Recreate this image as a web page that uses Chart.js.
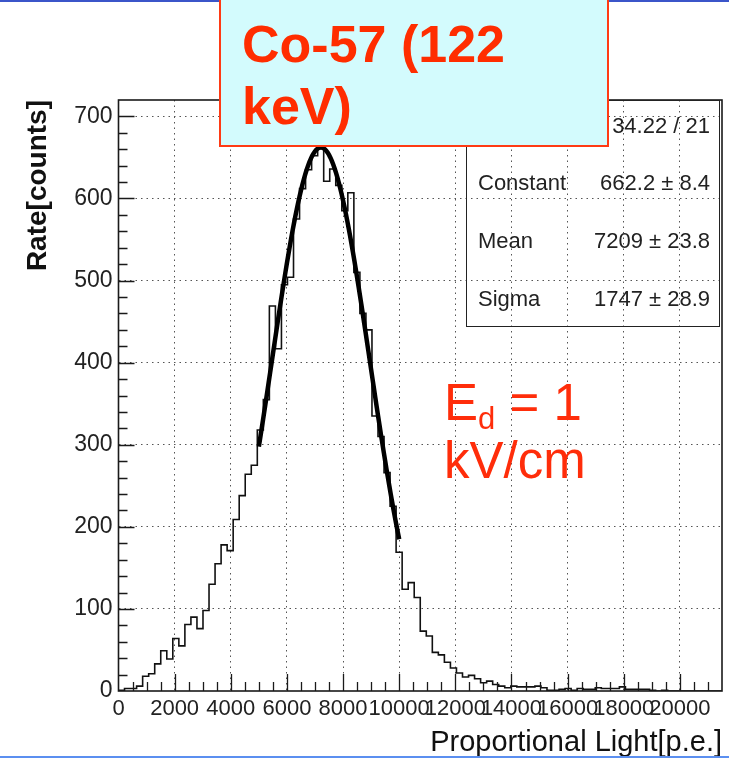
<!DOCTYPE html>
<html>
<head>
<meta charset="utf-8">
<title>Co-57 light spectrum</title>
<script src="https://cdn.jsdelivr.net/npm/chart.js@4"></script>
<style>
  html, body { margin: 0; padding: 0; background: #fff; }
  #wrap { position: relative; width: 729px; height: 760px; overflow: hidden;
          font-family: "Liberation Sans", Arial, Helvetica, sans-serif; }
  #plot { position: absolute; left: 0; top: 0; }
  .edge { position: absolute; left: 0; width: 729px; height: 2px; }
  #stats { position: absolute; left: 466px; top: 100px; width: 254px; height: 227px;
           border: 1.5px solid #222; box-sizing: border-box; }
  .row { position: absolute; left: 0; right: 0; height: 26px; line-height: 26px;
         font-size: 22px; color: #222; }
  .row .k { position: absolute; left: 11px; }
  .row .v { position: absolute; right: 9px; }
  #source { position: absolute; left: 219px; top: -3px; width: 390px; height: 150px;
            box-sizing: border-box; border: 2px solid #ff3a14; background: #d3fbfd;
            padding: 14px 0 0 21px; color: #ff2d00; font-weight: bold;
            font-size: 52px; line-height: 62px; }
  #field { position: absolute; left: 444px; top: 374px; color: #ff2d0a;
           font-size: 51px; line-height: 58px; }
  #field sub { font-size: 31px; line-height: 0; vertical-align: -0.28em; }
</style>
</head>
<body>
<div id="wrap">
  <canvas id="plot" width="729" height="760"></canvas>
  <div class="edge" style="top:0; background:#3b55c9;"></div>
  <div class="edge" style="top:756px; background:#5b8ff0;"></div>

  <div id="stats">
    <div class="row" style="top:12px"><span class="v">34.22 / 21</span></div>
    <div class="row" style="top:69px"><span class="k">Constant</span><span class="v">662.2 ± 8.4</span></div>
    <div class="row" style="top:127px"><span class="k">Mean</span><span class="v">7209 ± 23.8</span></div>
    <div class="row" style="top:185px"><span class="k">Sigma</span><span class="v">1747 ± 28.9</span></div>
  </div>

  <div id="source">Co-57 (122<br>keV)</div>
  <div id="field">E<sub>d</sub> = 1<br>kV/cm</div>
</div>

<script>
// histogram binning and axis ranges
const binWidth = 215;
const xRange = [0, 21500];
const yRange = [0, 720];
const xTickStep = 2000;
const xMinorStep = 500;
const yTickStep = 100;
const yMinorStep = 20;
const xTickLabels = [0, 2000, 4000, 6000, 8000, 10000, 12000, 14000, 16000, 18000, 20000];
const yTickLabels = [0, 100, 200, 300, 400, 500, 600, 700];

// counts per bin, starting at 0 p.e.
const counts = [
  1, 3, 3, 6, 18, 21, 33, 49, 39, 64,
  55, 81, 90, 76, 98, 130, 155, 178, 171, 209,
  238, 264, 275, 318, 355, 469, 417, 495, 504, 575,
  612, 635, 652, 664, 621, 636, 616, 585, 607, 510,
  460, 440, 335, 310, 266, 225, 169, 124, 132, 114,
  73, 67, 47, 44, 35, 28, 22, 17, 19, 15,
  10, 12, 8, 6, 4, 6, 5, 5, 5, 6,
  4, 1, 1, 2, 3, 1, 3, 2, 2, 4,
  3, 3, 3, 5, 2, 2, 2, 2, 1, 0,
  1, 0, 0, 0, 0, 0, 0, 0, 0, 0
];

// gaussian fit result
const fitConstant = 662.2;
const fitMean = 7209;
const fitSigma = 1747;
const fitRange = [5000, 10000];
const fitStep = 50;

const fontFamily = '"Liberation Sans", Arial, Helvetica, sans-serif';
Chart.defaults.font.family = fontFamily;

// step outline: one point per left bin edge, closed down to zero at both ends
const histPoints = [{ x: 0, y: 0 }]
  .concat(counts.map((c, i) => ({ x: i * binWidth, y: c })))
  .concat([{ x: counts.length * binWidth, y: 0 }]);

const fitPoints = [];
for (let e = fitRange[0]; e <= fitRange[1]; e += fitStep) {
  const d = (e - fitMean) / fitSigma;
  fitPoints.push({ x: e, y: fitConstant * Math.exp(-0.5 * d * d) });
}

// ROOT-like frame with inward major/minor ticks
const rootAxes = {
  id: 'rootAxes',
  afterDatasetsDraw(chart) {
    const { ctx, chartArea: a, scales: { x, y } } = chart;
    ctx.save();
    ctx.strokeStyle = '#1a1a1a';
    ctx.lineWidth = 1.3;
    ctx.beginPath();
    for (let v = xRange[0] + xMinorStep; v < xRange[1]; v += xMinorStep) {
      const px = Math.round(x.getPixelForValue(v)) + 0.5;
      const len = v % xTickStep === 0 ? 17 : 9;
      ctx.moveTo(px, a.bottom);
      ctx.lineTo(px, a.bottom - len);
    }
    for (let v = yRange[0] + yMinorStep; v < yRange[1]; v += yMinorStep) {
      const py = Math.round(y.getPixelForValue(v)) + 0.5;
      const len = v % yTickStep === 0 ? 16 : 9;
      ctx.moveTo(a.left, py);
      ctx.lineTo(a.left + len, py);
    }
    ctx.stroke();
    ctx.lineWidth = 1.6;
    ctx.strokeRect(a.left, a.top, a.right - a.left, a.bottom - a.top);
    ctx.restore();
  }
};

const gridColor = c => (c.tick && c.tick.value === 0) ? 'rgba(0,0,0,0)' : '#555';
const plainLabel = v => String(v);

new Chart(document.getElementById('plot'), {
  type: 'line',
  data: {
    datasets: [
      {
        label: 'gaus fit',
        data: fitPoints,
        borderColor: '#000',
        borderWidth: 4.5,
        pointRadius: 0,
        tension: 0
      },
      {
        label: 'counts',
        data: histPoints,
        stepped: true,
        borderColor: '#111',
        borderWidth: 1.6,
        pointRadius: 0,
        fill: false
      }
    ]
  },
  options: {
    responsive: false,
    animation: false,
    devicePixelRatio: 1,
    layout: { padding: { left: 0, right: 7, top: 100, bottom: 0 } },
    plugins: { legend: { display: false }, tooltip: { enabled: false } },
    scales: {
      x: {
        type: 'linear',
        min: xRange[0],
        max: xRange[1],
        afterFit: s => { s.height = 69; },
        afterBuildTicks: s => { s.ticks = xTickLabels.map(v => ({ value: v })); },
        ticks: {
          autoSkip: false, maxRotation: 0, minRotation: 0, padding: 5,
          color: '#222', font: { size: 22 }, callback: plainLabel
        },
        grid: { drawTicks: false, color: gridColor, lineWidth: 1 },
        border: { display: false, dash: [1.5, 4] },
        title: {
          display: true, text: 'Proportional Light[p.e.]', align: 'end',
          color: '#111', font: { size: 29 }, padding: { top: 0, bottom: 0 }
        }
      },
      y: {
        min: yRange[0],
        max: yRange[1],
        afterFit: s => { s.width = 118.5; },
        afterBuildTicks: s => { s.ticks = yTickLabels.map(v => ({ value: v })); },
        ticks: { padding: 6, color: '#222', font: { size: 23 }, callback: plainLabel },
        grid: { drawTicks: false, color: gridColor, lineWidth: 1 },
        border: { display: false, dash: [1.5, 4] },
        title: {
          display: true, text: 'Rate[counts]', align: 'end',
          color: '#111', font: { size: 28, weight: 'bold' }, padding: { top: 21, bottom: 0 }
        }
      }
    }
  },
  plugins: [rootAxes]
});
</script>
</body>
</html>
